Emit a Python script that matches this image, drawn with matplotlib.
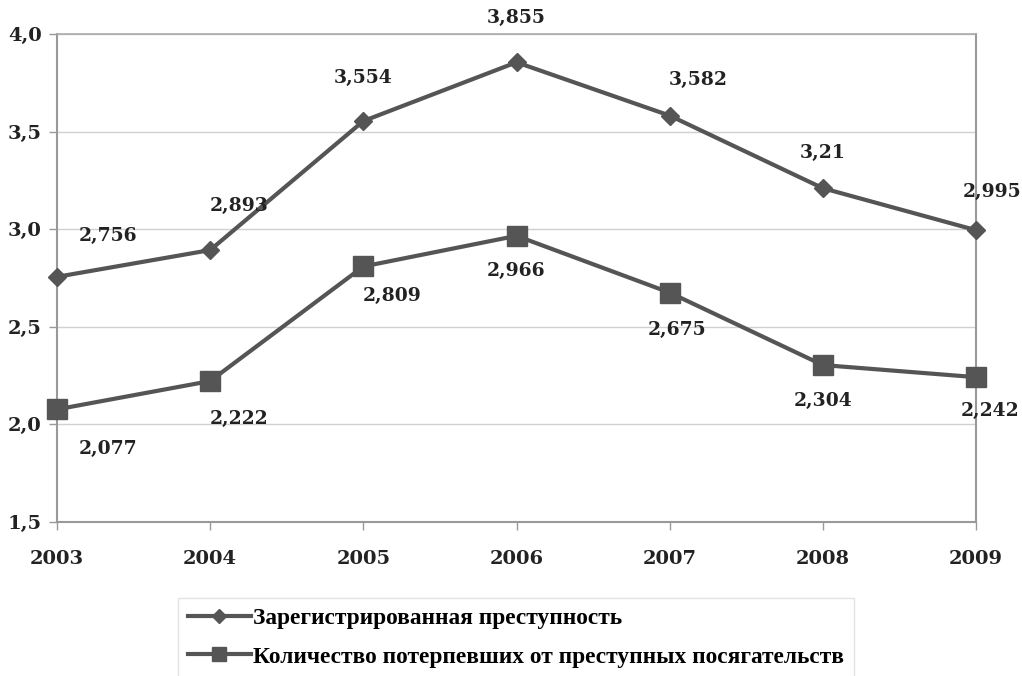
import matplotlib
matplotlib.use("Agg")
import matplotlib.pyplot as plt
from matplotlib.ticker import FuncFormatter

years = [2003, 2004, 2005, 2006, 2007, 2008, 2009]
crime = [2.756, 2.893, 3.554, 3.855, 3.582, 3.21, 2.995]
victims = [2.077, 2.222, 2.809, 2.966, 2.675, 2.304, 2.242]
crime_labels = ["2,756", "2,893", "3,554", "3,855", "3,582", "3,21", "2,995"]
victim_labels = ["2,077", "2,222", "2,809", "2,966", "2,675", "2,304", "2,242"]
name_crime = "Зарегистрированная преступность"
name_victims = "Количество потерпевших от преступных посягательств"

crime_offsets = [(51, 41), (29, 44), (0, 43), (0, 44), (29, 36), (0, 35), (16, 38)]
victim_offsets = [(51, -40), (29, -38), (29, -30), (0, -35), (7, -37), (0, -36), (14, -34)]

col = "#555555"
grid = "#d0d0d0"
spine = "#999999"

fig = plt.figure(figsize=(10.22, 6.76), dpi=100)
ax = fig.add_axes([57/1022, 1-522/676, (976-57)/1022, (522-34)/676])

ax.plot(years, crime, color=col, lw=3, marker="D", ms=9, label=name_crime, zorder=3, clip_on=False)
ax.plot(years, victims, color=col, lw=3, marker="s", ms=14, label=name_victims, zorder=3, clip_on=False)

tfont = dict(family="DejaVu Serif", weight="bold", size=13.5, color="#222222")
for x, y, s, o in zip(years, crime, crime_labels, crime_offsets):
    ax.annotate(s, (x, y), xytext=o, textcoords="offset pixels", ha="center", va="center", **tfont)
for x, y, s, o in zip(years, victims, victim_labels, victim_offsets):
    ax.annotate(s, (x, y), xytext=o, textcoords="offset pixels", ha="center", va="center", **tfont)

ax.set_xlim(2003, 2009)
ax.set_ylim(1.5, 4.0)
ax.set_xticks(years)
ax.set_yticks([1.5, 2.0, 2.5, 3.0, 3.5, 4.0])
ax.yaxis.set_major_formatter(FuncFormatter(lambda v, p: f"{v:.1f}".replace(".", ",")))
ax.grid(axis="y", color=grid, lw=1)
ax.set_axisbelow(True)
for s in ["left", "bottom", "right"]:
    ax.spines[s].set_color(spine)
    ax.spines[s].set_linewidth(1.5)
ax.spines["top"].set_color("#aaaaaa")
ax.spines["top"].set_linewidth(1.2)
ax.tick_params(axis="both", color=spine, width=1, length=6)
ax.tick_params(axis="x", pad=14)
ax.tick_params(axis="y", pad=5)
for lab in ax.get_xticklabels() + ax.get_yticklabels():
    lab.set_fontfamily("DejaVu Serif")
    lab.set_fontweight("bold")
    lab.set_fontsize(14)
    lab.set_color("#222222")

leg = fig.legend(loc="upper center", bbox_to_anchor=(516/1022, 1-598/676), ncol=1,
                 frameon=True, fancybox=False, edgecolor="#dddddd", handlelength=2.7,
                 markerscale=0.75, borderaxespad=0,
                 prop=dict(family="Liberation Serif", weight="bold", size=16.8),
                 borderpad=0.4, labelspacing=0.75, handletextpad=0.1)
leg.get_frame().set_linewidth(1)

fig.savefig("out.png", dpi=100)
